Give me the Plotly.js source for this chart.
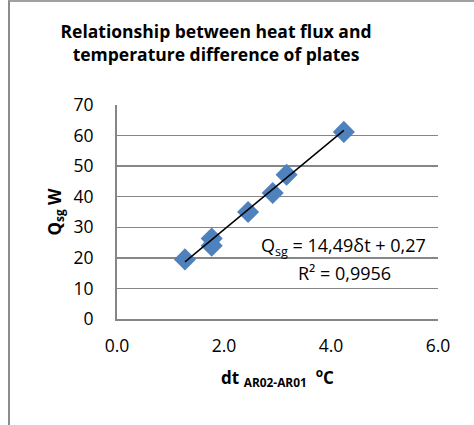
<!DOCTYPE html>
<html>
<head>
<meta charset="utf-8">
<script src="https://cdn.plot.ly/plotly-3.0.1.min.js"></script>
<style>
html,body{margin:0;padding:0;background:#fff;}
#frame{position:absolute;left:8px;top:0;width:480px;height:423px;border-left:2px solid #8c8c8c;border-top:2px solid #a0a0a0;border-bottom:1px solid #d0d0d0;}
#chart{position:absolute;left:0;top:0;width:474px;height:425px;}
</style>
</head>
<body>
<div id="frame"></div>
<div id="chart"></div>
<script>
// data
var dt = [1.27, 1.77, 1.77, 2.45, 2.91, 3.17, 4.24];
var Qsg = [19.5, 26.3, 24.0, 35.0, 41.2, 47.2, 61.2];
var fitSlope = 14.49;
var fitIntercept = 0.27;
var fitR2 = 0.9956;
var xTicks = [0, 2, 4, 6];
var xTickLabels = ['0.0', '2.0', '4.0', '6.0'];
var yTicks = [0, 10, 20, 30, 40, 50, 60, 70];

var xMin = Math.min.apply(null, dt), xMax = Math.max.apply(null, dt);
var fitX = [xMin, xMax];
var fitY = fitX.map(function (x) { return fitSlope * x + fitIntercept; });
function comma(v) { return String(v).replace('.', ','); }

var font = '"Open Sans", Lato, sans-serif';

var traces = [
  {x: dt, y: Qsg, type: 'scatter', mode: 'markers',
   marker: {symbol: 'diamond', size: 17, color: '#4F81BD'}, hoverinfo: 'none'},
  {x: fitX, y: fitY, type: 'scatter', mode: 'lines',
   line: {color: '#000', width: 1.5}, hoverinfo: 'none'}
];

var layout = {
  width: 474, height: 425,
  paper_bgcolor: 'rgba(0,0,0,0)', plot_bgcolor: 'rgba(0,0,0,0)',
  margin: {l: 117, r: 36, t: 105, b: 106},
  showlegend: false,
  font: {family: font, color: '#000', size: 17.5},
  title: {text: '<b>Relationship between heat flux and<br>temperature difference of plates</b>',
          xref: 'container', yref: 'container', x: 216 / 474, xanchor: 'center',
          y: 1 - 38 / 425, yanchor: 'middle', font: {family: font, size: 17.5, color: '#000'}},
  xaxis: {range: [0, 6], tickvals: xTicks, ticktext: xTickLabels, showgrid: false, zeroline: false,
          showline: true, linecolor: '#868686', linewidth: 2, ticks: '', ticklabelstandoff: 10,
          title: {text: '<b>dt <sub>AR02-AR01</sub>  <sup>o</sup>C</b>', standoff: 16, font: {size: 17}}},
  yaxis: {range: [0, 70], tickvals: yTicks, showgrid: true, gridcolor: '#868686', gridwidth: 1.5, zeroline: false,
          showline: true, linecolor: '#868686', linewidth: 2, ticks: '', ticklabelstandoff: 18,
          title: {text: '<b>Q<sub>sg</sub> W</b>', standoff: 8, font: {size: 17}}},
  annotations: [
    {xref: 'x', yref: 'y', x: 4.24, y: 23.6, text: 'Q<sub>sg</sub> = ' + comma(fitSlope) + 'δt + ' + comma(fitIntercept),
     showarrow: false, font: {size: 18}, xanchor: 'center', yanchor: 'middle'},
    {xref: 'x', yref: 'y', x: 4.26, y: 15.0, text: 'R² = ' + comma(fitR2),
     showarrow: false, font: {size: 18}, xanchor: 'center', yanchor: 'middle'}
  ]
};

Plotly.newPlot('chart', traces, layout, {displayModeBar: false, staticPlot: true});
</script>
</body>
</html>
